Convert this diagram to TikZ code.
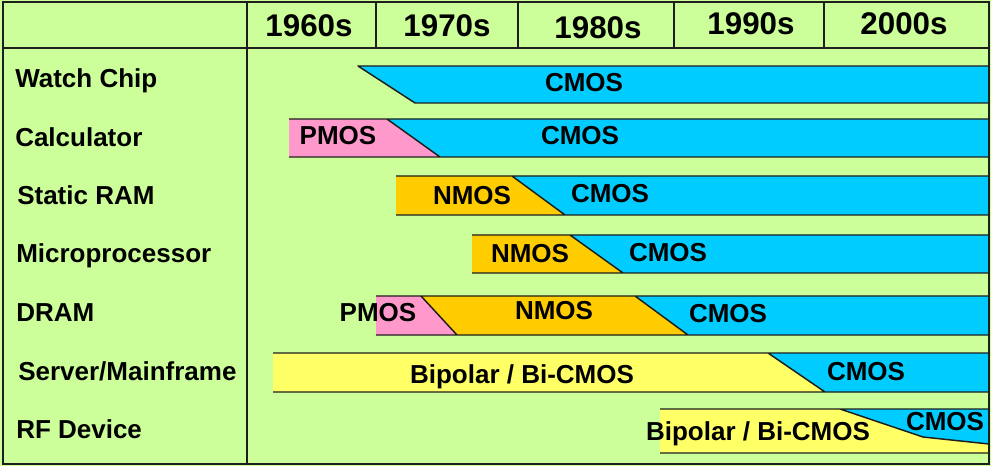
\documentclass[tikz,border=0pt]{standalone}
\usepackage{fontspec}
\setmainfont{Liberation Sans}
\definecolor{bgGreen}{RGB}{204,255,153}
\definecolor{cmosBlue}{RGB}{0,204,255}
\definecolor{pmosPink}{RGB}{255,153,204}
\definecolor{nmosGold}{RGB}{255,204,0}
\definecolor{bipYellow}{RGB}{255,255,102}
\definecolor{lineDark}{RGB}{30,30,30}
\begin{document}
\begin{tikzpicture}[x=0.75pt,y=-0.75pt,
  rowlbl/.style={font=\bfseries\fontsize{19.5}{20}\selectfont, inner sep=0pt, anchor=base west},
  hdr/.style={font=\bfseries\fontsize{23.5}{25}\selectfont, inner sep=0pt, anchor=base},
  bartxt/.style={font=\bfseries\fontsize{19.5}{20}\selectfont, inner sep=0pt, anchor=base},
  grid/.style={draw=lineDark, line width=1.3pt},
  barline/.style={draw=lineDark, line width=1.1pt, line join=round}]
\useasboundingbox (0,0) rectangle (991,466);
\fill[bgGreen] (0,0) rectangle (991,466);

% Watch Chip
\fill[cmosBlue] (358,66) -- (989,66) -- (989,103) -- (415,103) -- cycle;
\draw[barline] (989,66) -- (358,66) -- (415,103) -- (989,103);

% Calculator
\fill[pmosPink] (289,119) -- (387,119) -- (440,157) -- (289,157) -- cycle;
\fill[cmosBlue] (387,119) -- (989,119) -- (989,157) -- (440,157) -- cycle;
\draw[barline] (289,119) -- (989,119) (289,157) -- (989,157) (387,119) -- (440,157);

% Static RAM
\fill[nmosGold] (396,176) -- (512,176) -- (565,215) -- (396,215) -- cycle;
\fill[cmosBlue] (512,176) -- (989,176) -- (989,215) -- (565,215) -- cycle;
\draw[barline] (396,176) -- (989,176) (396,215) -- (989,215) (512,176) -- (565,215);

% Microprocessor
\fill[nmosGold] (472,235) -- (570,235) -- (623,273) -- (472,273) -- cycle;
\fill[cmosBlue] (570,235) -- (989,235) -- (989,273) -- (623,273) -- cycle;
\draw[barline] (472,235) -- (989,235) (472,273) -- (989,273) (570,235) -- (623,273);

% DRAM
\fill[pmosPink] (376,296) -- (421,296) -- (457,335) -- (376,335) -- cycle;
\fill[nmosGold] (421,296) -- (635,296) -- (688,335) -- (457,335) -- cycle;
\fill[cmosBlue] (635,296) -- (989,296) -- (989,335) -- (688,335) -- cycle;
\draw[barline] (376,296) -- (989,296) (376,335) -- (989,335)
  (421,296) -- (457,335) (635,296) -- (688,335);

% Server/Mainframe
\fill[bipYellow] (273,353) -- (768,353) -- (825,392) -- (273,392) -- cycle;
\fill[cmosBlue] (768,353) -- (989,353) -- (989,392) -- (825,392) -- cycle;
\draw[barline] (273,353) -- (989,353) (273,392) -- (989,392) (768,353) -- (825,392);

% RF Device
\fill[bipYellow] (660,409) -- (989,409) -- (989,453) -- (660,453) -- cycle;
\fill[cmosBlue] (840,409) -- (989,409) -- (989,444) -- (923,437) -- cycle;
\draw[barline] (660,409) -- (989,409) (660,453) -- (989,453)
  (840,409) -- (923,437) -- (989,444);

% grid
\draw[grid] (3,2) rectangle (989,464);
\draw[grid] (3,48) -- (989,48);
\draw[grid] (247,2) -- (247,464);
\draw[grid] (376,2) -- (376,48) (518,2) -- (518,48) (674,2) -- (674,48) (824,2) -- (824,48);

% header
\node[hdr] (h60) at (309,37) {1960s};
\node[hdr] (h70) at (447,37) {1970s};
\node[hdr] (h80) at (598,39) {1980s};
\node[hdr] (h90) at (751,35) {1990s};
\node[hdr] (h00) at (904,35) {2000s};

% row labels
\node[rowlbl] (rWatch) at (15,88) {Watch Chip};
\node[rowlbl] (rCalc) at (15,147) {Calculator};
\node[rowlbl] (rSram) at (17,205) {Static RAM};
\node[rowlbl] (rMicro) at (16,263) {Microprocessor};
\node[rowlbl] (rDram) at (16,321) {DRAM};
\node[rowlbl] (rServer) at (18,380) {Server/Mainframe};
\node[rowlbl] (rRf) at (16,438) {RF Device};

% bar labels
\node[bartxt] (tWatchC) at (584,92) {CMOS};
\node[bartxt] (tCalcP) at (338,145) {PMOS};
\node[bartxt] (tCalcC) at (580,145) {CMOS};
\node[bartxt] (tSramN) at (472,205) {NMOS};
\node[bartxt] (tSramC) at (610,203) {CMOS};
\node[bartxt] (tMicroN) at (530,263) {NMOS};
\node[bartxt] (tMicroC) at (668,262) {CMOS};
\node[bartxt] (tDramP) at (378,321) {PMOS};
\node[bartxt] (tDramN) at (554,320) {NMOS};
\node[bartxt] (tDramC) at (728,322) {CMOS};
\node[bartxt] (tServerB) at (522,383) {Bipolar / Bi-CMOS};
\node[bartxt] (tServerC) at (866,380) {CMOS};
\node[bartxt] (tRfB) at (758,440) {Bipolar / Bi-CMOS};
\node[bartxt] (tRfC) at (945,430) {CMOS};
\end{tikzpicture}
\end{document}
